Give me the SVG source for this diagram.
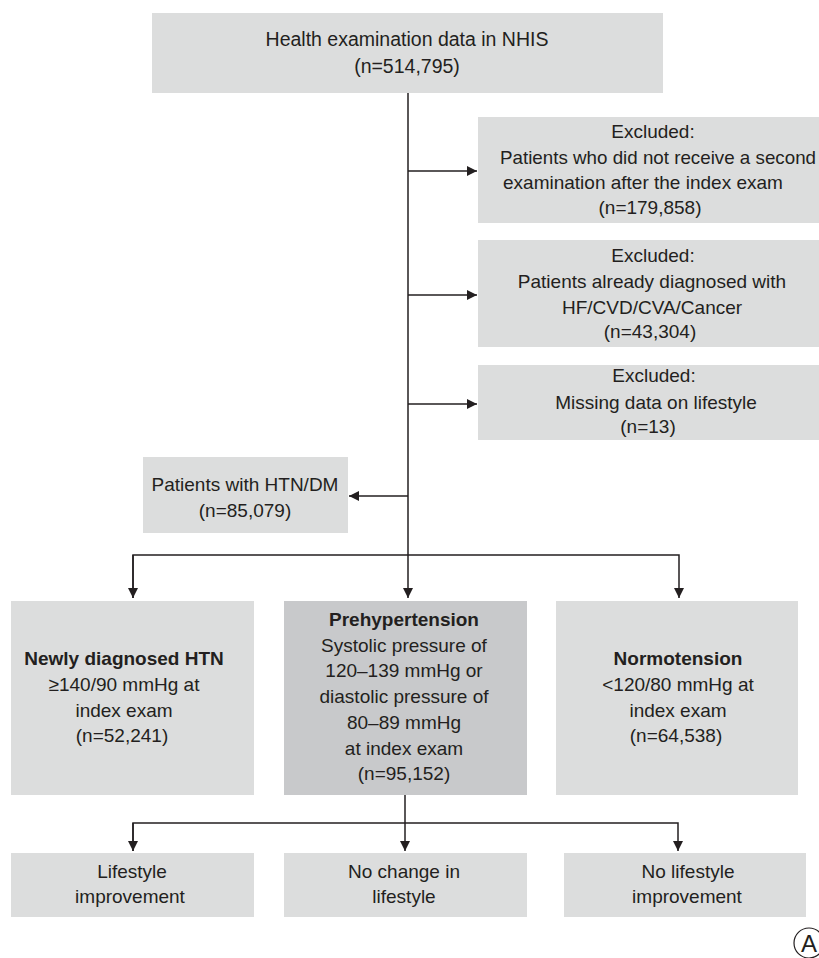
<svg xmlns="http://www.w3.org/2000/svg" width="819" height="958" viewBox="0 0 819 958">
<defs>
<style>
.box{fill:#dcdddd;}
.dark{fill:#c8c9cb;}
text{font-family:"Liberation Sans",Arial,sans-serif;font-size:19px;fill:#231f20;text-anchor:middle;}
.b{font-weight:bold;}
.ln{fill:none;stroke:#231f20;stroke-width:1.5;}
</style>
<marker id="ah" markerUnits="userSpaceOnUse" markerWidth="11" markerHeight="11" refX="10" refY="5.5" orient="auto">
<path d="M0,0.5 L10,5.5 L0,10.5 z" fill="#231f20"/>
</marker>
</defs>
<rect width="819" height="958" fill="#ffffff"/>

<g id="connectors">
<path class="ln" d="M408,92 V598" marker-end="url(#ah)"/>
<path class="ln" d="M408,171 H477" marker-end="url(#ah)"/>
<path class="ln" d="M408,295 H477" marker-end="url(#ah)"/>
<path class="ln" d="M408,404 H477" marker-end="url(#ah)"/>
<path class="ln" d="M408,496 H349" marker-end="url(#ah)"/>
<path class="ln" d="M133,598 V555 H679 V598" marker-end="url(#ah)"/>
<path class="ln" d="M133,555 V598" marker-end="url(#ah)"/>
<path class="ln" d="M405,795 V851" marker-end="url(#ah)"/>
<path class="ln" d="M133,851 V823 H678 V851" marker-end="url(#ah)"/>
<path class="ln" d="M133,823 V851" marker-end="url(#ah)"/>
</g>

<g id="n-top">
<rect class="box" x="152" y="13" width="511" height="80"/>
<text x="407" y="46" style="font-size:19.5px">Health examination data in NHIS</text>
<text x="407" y="73" style="font-size:19.5px">(n=514,795)</text>
</g>

<g id="n-excl1">
<rect class="box" x="478" y="117" width="341" height="106"/>
<text x="653" y="138">Excluded:</text>
<text x="500" y="164" style="text-anchor:start" textLength="316" lengthAdjust="spacingAndGlyphs">Patients who did not receive a second</text>
<text x="503" y="189" style="text-anchor:start">examination after the index exam</text>
<text x="650" y="214">(n=179,858)</text>
</g>

<g id="n-excl2">
<rect class="box" x="478" y="240" width="341" height="107"/>
<text x="653" y="262">Excluded:</text>
<text x="652" y="288">Patients already diagnosed with</text>
<text x="652" y="314">HF/CVD/CVA/Cancer</text>
<text x="650" y="338">(n=43,304)</text>
</g>

<g id="n-excl3">
<rect class="box" x="478" y="365" width="341" height="75"/>
<text x="654" y="382">Excluded:</text>
<text x="656" y="409">Missing data on lifestyle</text>
<text x="648" y="433">(n=13)</text>
</g>

<g id="n-htndm">
<rect class="box" x="143" y="457" width="205" height="76"/>
<text x="245" y="491">Patients with HTN/DM</text>
<text x="245" y="517">(n=85,079)</text>
</g>

<g id="n-newhtn">
<rect class="box" x="11" y="601" width="243" height="194"/>
<text class="b" x="124" y="665">Newly diagnosed HTN</text>
<text x="124" y="691">≥140/90 mmHg at</text>
<text x="124" y="717">index exam</text>
<text x="122" y="742">(n=52,241)</text>
</g>

<g id="n-prehtn">
<rect class="dark" x="284" y="601" width="243" height="194"/>
<text class="b" x="404" y="626">Prehypertension</text>
<text x="404" y="652">Systolic pressure of</text>
<text x="404" y="677">120–139 mmHg or</text>
<text x="404" y="703">diastolic pressure of</text>
<text x="404" y="729">80–89 mmHg</text>
<text x="404" y="755">at index exam</text>
<text x="404" y="780">(n=95,152)</text>
</g>

<g id="n-normo">
<rect class="box" x="556" y="601" width="242" height="194"/>
<text class="b" x="678" y="665">Normotension</text>
<text x="678" y="691">&lt;120/80 mmHg at</text>
<text x="678" y="717">index exam</text>
<text x="676" y="742">(n=64,538)</text>
</g>

<g id="n-improve">
<rect class="box" x="11" y="853" width="243" height="64"/>
<text x="132" y="878">Lifestyle</text>
<text x="130" y="903">improvement</text>
</g>

<g id="n-nochange">
<rect class="box" x="284" y="853" width="243" height="64"/>
<text x="404" y="878">No change in</text>
<text x="404" y="903">lifestyle</text>
</g>

<g id="n-noimprove">
<rect class="box" x="564" y="853" width="242" height="64"/>
<text x="688" y="878">No lifestyle</text>
<text x="687" y="903">improvement</text>
</g>

<g id="label-a">
<circle cx="809" cy="943" r="15" fill="none" stroke="#231f20" stroke-width="1.2"/>
<text x="809" y="952" style="font-size:24px">A</text>
</g>
</svg>
